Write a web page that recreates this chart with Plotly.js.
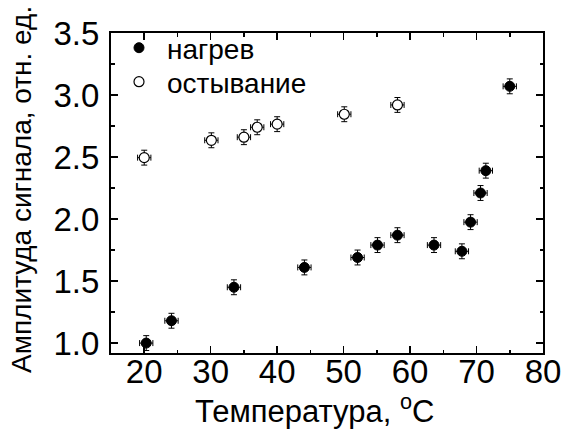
<!DOCTYPE html>
<html>
<head>
<meta charset="utf-8">
<script src="https://cdn.plot.ly/plotly-3.0.1.min.js"></script>
<style>html,body{margin:0;padding:0;background:#fff;}</style>
</head>
<body>
<div id="chart" style="width:564px;height:432px;"></div>
<script>
// Heating (нагрев)
const heatT = [20.3, 24.1, 33.5, 44.1, 52.1, 55.1, 58.1, 63.6, 67.8, 69.1, 70.6, 71.4, 75.0];
const heatA = [1.00, 1.18, 1.45, 1.61, 1.69, 1.79, 1.87, 1.79, 1.74, 1.975, 2.21, 2.39, 3.07];
// Cooling (остывание)
const coolT = [20.0, 30.1, 35.0, 37.0, 40.0, 50.1, 58.1];
const coolA = [2.495, 2.635, 2.66, 2.74, 2.765, 2.845, 2.92];
const errT = 1.0;
const errA = 0.06;
const seriesNames = ['нагрев', 'остывание'];
const xTitle = 'Температура, <sup>o</sup>C';
const yTitle = 'Амплитуда сигнала, отн. ед.';
const xTicks = [20, 30, 40, 50, 60, 70, 80];
const yTicks = [1.0, 1.5, 2.0, 2.5, 3.0, 3.5];
const yTickText = ['1.0', '1.5', '2.0', '2.5', '3.0', '3.5'];

const FONT = '"Liberation Sans", Arial, sans-serif';
const errX = {type: 'constant', value: errT, color: '#000', thickness: 1, width: 3};
const errY = {type: 'constant', value: errA, color: '#000', thickness: 1, width: 3};

const traces = [
  {
    x: heatT, y: heatA, name: seriesNames[0], type: 'scatter', mode: 'markers',
    legend: 'legend',
    marker: {symbol: 'circle', size: 10, color: '#000', line: {color: '#000', width: 1}},
    error_x: errX, error_y: errY
  },
  {
    x: coolT, y: coolA, name: seriesNames[1], type: 'scatter', mode: 'markers',
    legend: 'legend2',
    marker: {symbol: 'circle', size: 10, color: '#fff', line: {color: '#000', width: 1.2}},
    error_x: errX, error_y: errY
  }
];

const axisCommon = {
  showline: true, linecolor: '#000', linewidth: 2, mirror: 'allticks',
  ticks: 'inside', ticklen: 7, tickwidth: 1.5, tickcolor: '#000',
  showgrid: false, zeroline: false,
  tickfont: {family: FONT, size: 33, color: '#000'},
  minor: {ticks: 'inside', ticklen: 3.5, tickwidth: 1.5, tickcolor: '#000', showgrid: false}
};

const legendCommon = {
  xanchor: 'left', yanchor: 'middle',
  bgcolor: 'rgba(0,0,0,0)', borderwidth: 0,
  font: {family: FONT, size: 28, color: '#000'},
  itemwidth: 46
};

const layout = {
  width: 564, height: 432,
  margin: {l: 111, r: 21, t: 33, b: 79},
  paper_bgcolor: '#fff', plot_bgcolor: '#fff',
  showlegend: true,
  legend: Object.assign({}, legendCommon, {x: 0.0, y: 1 - 15 / 320}),
  legend2: Object.assign({}, legendCommon, {x: 0.0, y: 1 - 49 / 320}),
  xaxis: Object.assign({}, axisCommon, {
    range: [15, 80], tickmode: 'array', tickvals: xTicks,
    ticklabelstandoff: -12,
    minor: Object.assign({}, axisCommon.minor, {dtick: 5, tick0: 0})
  }),
  yaxis: Object.assign({}, axisCommon, {
    range: [0.92, 3.5], tickmode: 'array', tickvals: yTicks, ticktext: yTickText,
    ticklabelstandoff: 3,
    minor: Object.assign({}, axisCommon.minor, {dtick: 0.25, tick0: 0})
  }),
  annotations: [
    {
      text: xTitle, xref: 'paper', yref: 'paper',
      x: (314 - 111) / 432, y: (353 - 409) / 320, xanchor: 'center', yanchor: 'middle',
      showarrow: false, font: {family: FONT, size: 31, color: '#000'}
    },
    {
      text: yTitle, xref: 'paper', yref: 'paper', textangle: -90,
      x: (21 - 111) / 432, y: (353 - 190) / 320, xanchor: 'center', yanchor: 'middle',
      showarrow: false, font: {family: FONT, size: 28, color: '#000'}
    }
  ]
};

Plotly.newPlot('chart', traces, layout, {displayModeBar: false, staticPlot: true});
</script>
</body>
</html>
